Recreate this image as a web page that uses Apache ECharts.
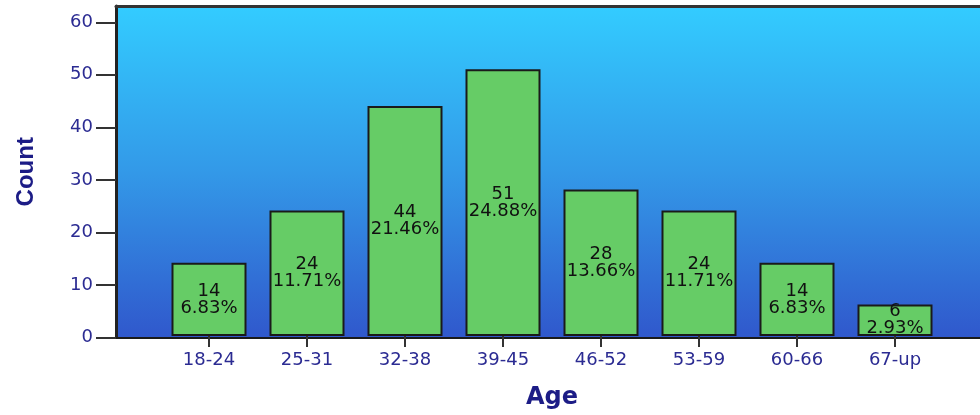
<!DOCTYPE html>
<html>
<head>
<meta charset="utf-8">
<script src="https://cdn.jsdelivr.net/npm/echarts@6/dist/echarts.min.js"></script>
<style>html,body{margin:0;padding:0;background:#fff}#c{width:980px;height:415px}</style>
</head>
<body>
<div id="c"></div>
<script>
var categories = ['18-24', '25-31', '32-38', '39-45', '46-52', '53-59', '60-66', '67-up'];
var counts = [14, 24, 44, 51, 28, 24, 14, 6];
var percents = ['6.83%', '11.71%', '21.46%', '24.88%', '13.66%', '11.71%', '6.83%', '2.93%'];
var yMin = 0, yMax = 63.1, yInterval = 10;

var labelColor = '#2b2b92';
var titleColor = '#1c1c86';

var chart = echarts.init(document.getElementById('c'), null, {renderer: 'canvas'});
chart.setOption({
  animation: false,
  backgroundColor: '#ffffff',
  grid: [
    {left: 116, right: 0, top: 6, bottom: 77.5, show: true, borderWidth: 0,
     backgroundColor: new echarts.graphic.LinearGradient(0, 0, 0, 1, [
       {offset: 0, color: '#33CCFF'},
       {offset: 0.5, color: '#3399E8'},
       {offset: 1, color: '#3058CC'}
     ])},
    {left: 160, right: 36, top: 6, bottom: 77.5}
  ],
  xAxis: [
    {type: 'value', gridIndex: 0, min: 0, max: 1, position: 'bottom',
     axisLine: {show: true, onZero: false, lineStyle: {color: '#1a1a1a', width: 2}},
     axisTick: {show: false}, axisLabel: {show: false}, splitLine: {show: false}},
    {type: 'value', gridIndex: 0, min: 0, max: 1, position: 'top',
     axisLine: {show: true, onZero: false, lineStyle: {color: '#333333', width: 3}},
     axisTick: {show: false}, axisLabel: {show: false}, splitLine: {show: false}},
    {type: 'category', gridIndex: 1, data: categories,
     axisLine: {show: false},
     axisTick: {show: true, alignWithLabel: true, length: 11, lineStyle: {color: '#333333', width: 2}},
     axisLabel: {color: labelColor, fontSize: 18, fontFamily: 'DejaVu Sans', margin: 15},
     name: 'Age', nameLocation: 'middle', nameGap: 50,
     nameTextStyle: {color: titleColor, fontSize: 24, fontWeight: 'bold', fontFamily: 'DejaVu Sans'}}
  ],
  yAxis: [
    {type: 'value', gridIndex: 0, min: yMin, max: yMax, interval: yInterval,
     axisLine: {show: true, lineStyle: {color: '#222222', width: 3}},
     axisTick: {show: true, length: 20, lineStyle: {color: '#333333', width: 2}},
     axisLabel: {color: labelColor, fontSize: 18, fontFamily: 'DejaVu Sans', margin: 23, showMaxLabel: false},
     splitLine: {show: false},
     name: 'Count', nameLocation: 'middle', nameGap: 78, nameRotate: 90,
     nameTextStyle: {color: titleColor, fontSize: 24, fontWeight: 'bold', fontFamily: 'Liberation Sans'}},
    {type: 'value', gridIndex: 1, min: yMin, max: yMax, interval: yInterval, show: false}
  ],
  series: [{
    type: 'bar',
    xAxisIndex: 2,
    yAxisIndex: 1,
    data: counts,
    barWidth: 75,
    itemStyle: {color: '#66CC66', borderColor: '#1a1a1a', borderWidth: 2},
    label: {
      show: true,
      position: 'inside',
      color: '#111111',
      fontSize: 18,
      lineHeight: 17,
      fontFamily: 'DejaVu Sans',
      formatter: function (p) { return counts[p.dataIndex] + '\n' + percents[p.dataIndex]; }
    }
  }]
});
</script>
</body>
</html>
